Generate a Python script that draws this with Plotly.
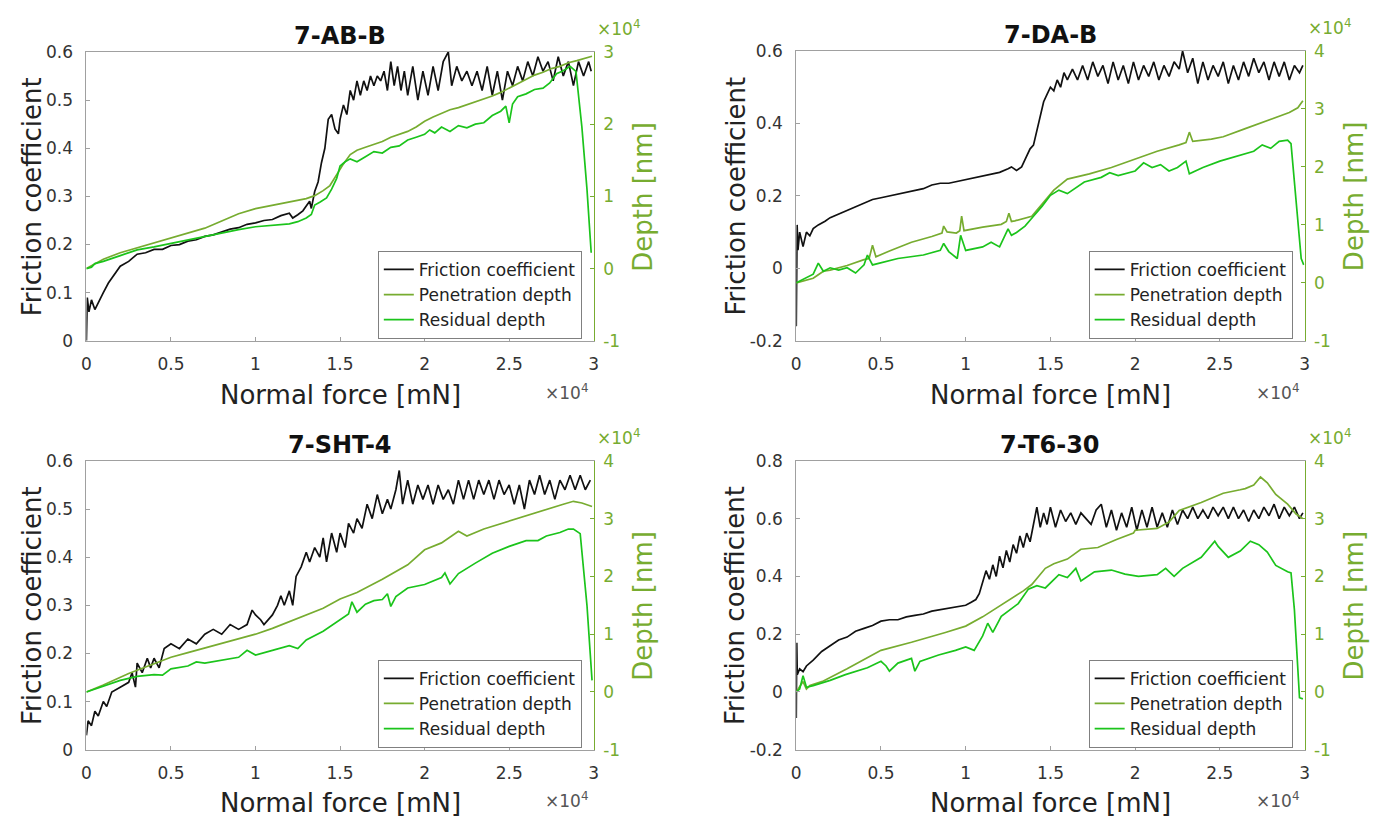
import plotly.graph_objects as go

# ---------------- data (force in 1e4 mN, depth in 1e4 nm) ----------------
# 7-AB-B
ab_fc_x = [0, 0.005, 0.015, 0.03, 0.05, 0.07, 0.1, 0.13, 0.17, 0.2, 0.25, 0.3, 0.35, 0.4, 0.45, 0.5, 0.55, 0.6,
           0.65, 0.7, 0.75, 0.8, 0.85, 0.9, 0.95, 1.0, 1.05, 1.1, 1.15, 1.2, 1.22, 1.25, 1.28, 1.3, 1.32, 1.33,
           1.35, 1.37, 1.39, 1.41, 1.43, 1.45, 1.47, 1.49, 1.5, 1.52, 1.54, 1.56, 1.58, 1.6, 1.62, 1.64, 1.66,
           1.68, 1.7, 1.72, 1.74, 1.76, 1.78, 1.8, 1.82, 1.84, 1.86, 1.88, 1.9, 1.93, 1.96, 1.99, 2.02, 2.05,
           2.08, 2.11, 2.14, 2.16, 2.19, 2.22, 2.25, 2.28, 2.31, 2.34, 2.37, 2.4, 2.43, 2.46, 2.49, 2.52, 2.55,
           2.58, 2.61, 2.64, 2.67, 2.7, 2.73, 2.76, 2.79, 2.82, 2.85, 2.88, 2.91, 2.94, 2.97, 2.985]
ab_fc_y = [0.0, 0.09, 0.06, 0.085, 0.065, 0.08, 0.1, 0.12, 0.14, 0.155, 0.165, 0.18, 0.183, 0.19, 0.19, 0.198,
           0.2, 0.207, 0.21, 0.217, 0.22, 0.226, 0.232, 0.235, 0.242, 0.245, 0.25, 0.252, 0.26, 0.265, 0.255,
           0.262, 0.27, 0.28, 0.29, 0.275, 0.31, 0.33, 0.37, 0.4, 0.46, 0.47, 0.44, 0.43, 0.46, 0.49, 0.47,
           0.52, 0.5, 0.54, 0.51, 0.54, 0.52, 0.55, 0.53, 0.55, 0.54, 0.56, 0.52, 0.58, 0.53, 0.57, 0.52, 0.56,
           0.51, 0.57, 0.5, 0.56, 0.51, 0.57, 0.52, 0.58, 0.6, 0.53, 0.57, 0.54, 0.56, 0.53, 0.56, 0.52, 0.57,
           0.51, 0.56, 0.5, 0.56, 0.53, 0.57, 0.54, 0.58, 0.55, 0.59, 0.56, 0.58, 0.54, 0.59, 0.55, 0.58, 0.53,
           0.58, 0.55, 0.58, 0.56]
ab_pd_x = [0, 0.03, 0.1, 0.2, 0.3, 0.4, 0.5, 0.6, 0.7, 0.8, 0.9, 1.0, 1.1, 1.2, 1.3, 1.35, 1.4, 1.44, 1.48, 1.52,
           1.56, 1.6, 1.65, 1.7, 1.75, 1.8, 1.85, 1.9, 1.95, 2.0, 2.05, 2.1, 2.15, 2.2, 2.25, 2.3, 2.35, 2.4,
           2.45, 2.5, 2.55, 2.6, 2.65, 2.7, 2.75, 2.8, 2.85, 2.9, 2.95, 2.99]
ab_pd_y = [0.0, 0.04, 0.13, 0.22, 0.29, 0.36, 0.43, 0.49, 0.56, 0.66, 0.76, 0.83, 0.88, 0.92, 0.97, 1.01, 1.08,
           1.15, 1.3, 1.45, 1.58, 1.64, 1.68, 1.72, 1.76, 1.82, 1.86, 1.9, 1.96, 2.04, 2.1, 2.15, 2.2, 2.23,
           2.27, 2.3, 2.35, 2.39, 2.44, 2.5, 2.56, 2.62, 2.68, 2.72, 2.77, 2.8, 2.85, 2.88, 2.91, 2.94]
ab_rd_x = [0, 0.03, 0.05, 0.1, 0.2, 0.3, 0.4, 0.5, 0.6, 0.7, 0.8, 0.9, 1.0, 1.1, 1.2, 1.25, 1.3, 1.33, 1.35,
           1.38, 1.42, 1.45, 1.48, 1.5, 1.53, 1.56, 1.6, 1.65, 1.7, 1.75, 1.8, 1.85, 1.9, 1.95, 2.0, 2.03, 2.06,
           2.1, 2.15, 2.2, 2.25, 2.3, 2.35, 2.4, 2.45, 2.48, 2.5, 2.52, 2.55, 2.6, 2.65, 2.7, 2.74, 2.78, 2.82,
           2.86, 2.895, 2.93, 2.96, 2.985]
ab_rd_y = [0.0, 0.02, 0.07, 0.1, 0.18, 0.26, 0.3, 0.35, 0.4, 0.45, 0.5, 0.54, 0.58, 0.6, 0.62, 0.65, 0.7, 0.75,
           0.88, 0.92, 0.98, 1.1, 1.25, 1.42, 1.48, 1.52, 1.48, 1.55, 1.62, 1.6, 1.68, 1.7, 1.78, 1.82, 1.86,
           1.92, 1.88, 1.96, 1.9, 1.98, 1.95, 2.0, 2.02, 2.12, 2.18, 2.25, 2.02, 2.28, 2.38, 2.42, 2.48, 2.5,
           2.57, 2.7, 2.74, 2.8, 2.73, 1.96, 1.1, 0.22]

# 7-DA-B
da_fc_x = [0, 0.005, 0.01, 0.02, 0.04, 0.06, 0.08, 0.1, 0.13, 0.17, 0.2, 0.25, 0.3, 0.35, 0.4, 0.45, 0.5, 0.55,
           0.6, 0.65, 0.7, 0.75, 0.8, 0.85, 0.9, 0.95, 1.0, 1.05, 1.1, 1.15, 1.2, 1.25, 1.27, 1.3, 1.33, 1.35,
           1.37, 1.38, 1.4, 1.42, 1.44, 1.46, 1.48, 1.5, 1.52, 1.54, 1.56, 1.58, 1.6, 1.63, 1.66, 1.69, 1.72,
           1.75, 1.78, 1.81, 1.84, 1.87, 1.9, 1.93, 1.96, 1.99, 2.02, 2.05, 2.08, 2.11, 2.14, 2.17, 2.2, 2.23,
           2.26, 2.28, 2.31, 2.34, 2.37, 2.4, 2.43, 2.46, 2.49, 2.52, 2.55, 2.58, 2.61, 2.64, 2.67, 2.7, 2.73,
           2.76, 2.79, 2.82, 2.85, 2.88, 2.91, 2.94, 2.97, 2.99]
da_fc_y = [-0.16, 0.12, 0.05, 0.1, 0.06, 0.1, 0.09, 0.11, 0.12, 0.13, 0.14, 0.15, 0.16, 0.17, 0.18, 0.19, 0.195,
           0.2, 0.205, 0.21, 0.215, 0.22, 0.23, 0.235, 0.235, 0.24, 0.245, 0.25, 0.255, 0.26, 0.265, 0.275,
           0.28, 0.27, 0.28, 0.3, 0.32, 0.33, 0.34, 0.38, 0.42, 0.46, 0.48, 0.5, 0.49, 0.52, 0.5, 0.54, 0.52,
           0.55, 0.52, 0.56, 0.52, 0.57, 0.53, 0.56, 0.51, 0.57, 0.52, 0.56, 0.51, 0.57, 0.52, 0.56, 0.53, 0.57,
           0.52, 0.56, 0.53, 0.57, 0.55, 0.6, 0.54, 0.58, 0.51, 0.57, 0.52, 0.56, 0.53, 0.57, 0.51, 0.56, 0.52,
           0.57, 0.53, 0.58, 0.54, 0.57, 0.52, 0.57, 0.53, 0.57, 0.52, 0.56, 0.54, 0.56]
da_pd_x = [0, 0.1, 0.13, 0.16, 0.2, 0.3, 0.4, 0.43, 0.45, 0.47, 0.55, 0.68, 0.8, 0.86, 0.87, 0.89, 0.945, 0.965,
           0.976, 0.99, 1.1, 1.21, 1.24, 1.255, 1.27, 1.29, 1.39, 1.47, 1.52, 1.6, 1.73, 1.86, 1.99, 2.13, 2.26,
           2.3, 2.32, 2.34, 2.45, 2.52, 2.65, 2.78, 2.91, 2.96, 2.99]
da_pd_y = [0.0, 0.08, 0.14, 0.2, 0.22, 0.3, 0.4, 0.42, 0.65, 0.45, 0.55, 0.7, 0.8, 0.86, 0.98, 0.88, 0.86, 0.9,
           1.15, 0.9, 0.96, 1.01, 1.06, 1.2, 1.06, 1.07, 1.15, 1.43, 1.6, 1.79, 1.88, 1.99, 2.13, 2.27, 2.38,
           2.42, 2.6, 2.44, 2.48, 2.52, 2.66, 2.8, 2.94, 3.02, 3.14]
da_rd_x = [0, 0.05, 0.1, 0.13, 0.16, 0.2, 0.25, 0.3, 0.35, 0.4, 0.42, 0.45, 0.6, 0.75, 0.85, 0.87, 0.9, 0.95,
           0.97, 1.0, 1.1, 1.15, 1.2, 1.25, 1.27, 1.3, 1.35, 1.4, 1.45, 1.5, 1.55, 1.6, 1.7, 1.8, 1.85, 1.9,
           2.0, 2.05, 2.1, 2.15, 2.2, 2.25, 2.3, 2.32, 2.4, 2.5, 2.6, 2.7, 2.75, 2.8, 2.85, 2.9, 2.92, 2.95,
           2.98, 2.995]
da_rd_y = [0.0, 0.08, 0.15, 0.34, 0.2, 0.26, 0.22, 0.26, 0.17, 0.31, 0.48, 0.31, 0.42, 0.48, 0.56, 0.68, 0.54,
           0.42, 0.82, 0.56, 0.62, 0.7, 0.62, 0.93, 0.82, 0.87, 0.98, 1.15, 1.32, 1.51, 1.6, 1.54, 1.74, 1.82,
           1.9, 1.85, 1.93, 2.07, 1.99, 2.04, 1.93, 1.99, 2.1, 1.88, 1.99, 2.1, 2.18, 2.27, 2.38, 2.32, 2.44,
           2.46, 2.4, 1.37, 0.42, 0.31]

# 7-SHT-4
sh_fc_x = [0, 0.01, 0.03, 0.05, 0.07, 0.1, 0.12, 0.15, 0.2, 0.25, 0.27, 0.29, 0.3, 0.33, 0.36, 0.38, 0.4, 0.43,
           0.46, 0.5, 0.55, 0.6, 0.65, 0.7, 0.75, 0.8, 0.85, 0.9, 0.95, 0.98, 1.0, 1.03, 1.05, 1.1, 1.13, 1.15,
           1.17, 1.2, 1.22, 1.24, 1.27, 1.3, 1.32, 1.35, 1.38, 1.4, 1.42, 1.45, 1.48, 1.5, 1.53, 1.55, 1.58,
           1.6, 1.63, 1.66, 1.69, 1.72, 1.75, 1.78, 1.8, 1.83, 1.85, 1.87, 1.9, 1.93, 1.96, 1.99, 2.02, 2.05,
           2.08, 2.11, 2.14, 2.17, 2.2, 2.23, 2.26, 2.29, 2.32, 2.35, 2.38, 2.41, 2.44, 2.47, 2.5, 2.53, 2.56,
           2.59, 2.62, 2.65, 2.68, 2.71, 2.74, 2.77, 2.8, 2.83, 2.86, 2.89, 2.92, 2.95, 2.98]
sh_fc_y = [0.03, 0.06, 0.05, 0.08, 0.07, 0.1, 0.09, 0.12, 0.13, 0.14, 0.16, 0.13, 0.18, 0.16, 0.19, 0.17, 0.19,
           0.17, 0.21, 0.22, 0.21, 0.23, 0.22, 0.24, 0.25, 0.24, 0.26, 0.25, 0.26, 0.29, 0.28, 0.27, 0.26, 0.28,
           0.3, 0.32, 0.3, 0.33, 0.3, 0.36, 0.38, 0.41, 0.39, 0.42, 0.4, 0.44, 0.39, 0.45, 0.41, 0.45, 0.42,
           0.47, 0.45, 0.48, 0.46, 0.51, 0.48, 0.53, 0.49, 0.52, 0.5, 0.54, 0.58, 0.51, 0.56, 0.51, 0.55, 0.52,
           0.55, 0.51, 0.55, 0.52, 0.54, 0.51, 0.56, 0.52, 0.56, 0.52, 0.56, 0.53, 0.56, 0.52, 0.56, 0.53, 0.55,
           0.51, 0.55, 0.5, 0.56, 0.53, 0.57, 0.53, 0.56, 0.52, 0.56, 0.54, 0.57, 0.54, 0.57, 0.54, 0.56]
sh_pd_x = [0, 0.1, 0.25, 0.4, 0.5, 0.6, 0.75, 0.9, 1.0, 1.1, 1.25, 1.4, 1.5, 1.6, 1.75, 1.9, 2.0, 2.1, 2.2,
           2.25, 2.35, 2.5, 2.6, 2.75, 2.82, 2.88, 2.93, 2.99]
sh_pd_y = [0.0, 0.12, 0.32, 0.48, 0.6, 0.68, 0.8, 0.92, 1.0, 1.1, 1.28, 1.45, 1.61, 1.72, 1.95, 2.2, 2.46,
           2.58, 2.78, 2.7, 2.82, 2.96, 3.05, 3.19, 3.25, 3.3, 3.27, 3.21]
sh_rd_x = [0, 0.1, 0.2, 0.3, 0.4, 0.45, 0.5, 0.6, 0.65, 0.7, 0.8, 0.9, 0.95, 1.0, 1.1, 1.2, 1.25, 1.3, 1.4,
           1.5, 1.55, 1.57, 1.6, 1.65, 1.7, 1.75, 1.78, 1.8, 1.83, 1.9, 2.0, 2.1, 2.12, 2.15, 2.2, 2.3, 2.4,
           2.5, 2.6, 2.67, 2.72, 2.8, 2.85, 2.88, 2.92, 2.96, 2.99]
sh_rd_y = [0.0, 0.1, 0.2, 0.27, 0.3, 0.29, 0.4, 0.45, 0.52, 0.5, 0.55, 0.6, 0.72, 0.64, 0.72, 0.8, 0.75, 0.9,
           1.05, 1.25, 1.35, 1.56, 1.38, 1.52, 1.58, 1.6, 1.7, 1.48, 1.65, 1.8, 1.86, 1.98, 2.06, 1.87, 2.05,
           2.23, 2.4, 2.52, 2.62, 2.62, 2.7, 2.76, 2.82, 2.82, 2.74, 1.5, 0.2]

# 7-T6-30
t6_fc_x = [0, 0.003, 0.006, 0.02, 0.04, 0.06, 0.1, 0.15, 0.2, 0.25, 0.3, 0.35, 0.4, 0.45, 0.5, 0.55, 0.6, 0.65,
           0.7, 0.75, 0.8, 0.85, 0.9, 0.95, 1.0, 1.03, 1.06, 1.08, 1.1, 1.12, 1.14, 1.16, 1.18, 1.2, 1.22, 1.24,
           1.26, 1.28, 1.3, 1.32, 1.34, 1.36, 1.38, 1.4, 1.42, 1.44, 1.46, 1.48, 1.5, 1.53, 1.56, 1.59, 1.62,
           1.65, 1.68, 1.71, 1.74, 1.77, 1.8, 1.83, 1.86, 1.89, 1.92, 1.95, 1.98, 2.01, 2.04, 2.07, 2.1, 2.13,
           2.16, 2.19, 2.22, 2.25, 2.28, 2.31, 2.34, 2.37, 2.4, 2.43, 2.46, 2.49, 2.52, 2.55, 2.58, 2.61, 2.64,
           2.67, 2.7, 2.73, 2.76, 2.79, 2.82, 2.85, 2.88, 2.91, 2.94, 2.97, 2.99]
t6_fc_y = [-0.09, 0.17, 0.06, 0.08, 0.07, 0.09, 0.11, 0.14, 0.16, 0.18, 0.19, 0.21, 0.22, 0.23, 0.245, 0.25,
           0.25, 0.26, 0.265, 0.27, 0.28, 0.285, 0.29, 0.295, 0.3, 0.31, 0.32, 0.34, 0.38, 0.42, 0.39, 0.44,
           0.4, 0.47, 0.43, 0.49, 0.45, 0.51, 0.48, 0.54, 0.5, 0.55, 0.52, 0.58, 0.64, 0.57, 0.62, 0.58, 0.64,
           0.57, 0.63, 0.59, 0.62, 0.58, 0.62, 0.6, 0.58, 0.63, 0.65, 0.57, 0.63, 0.56, 0.62, 0.57, 0.64, 0.56,
           0.63, 0.57, 0.64, 0.57, 0.62, 0.57, 0.63, 0.58, 0.63, 0.6, 0.64, 0.6, 0.63, 0.6, 0.64, 0.61, 0.64,
           0.6, 0.64, 0.6, 0.63, 0.59, 0.63, 0.6, 0.64, 0.61, 0.65, 0.6, 0.64, 0.61, 0.64, 0.6, 0.62]
t6_pd_x = [0, 0.04, 0.06, 0.08, 0.16, 0.3, 0.5, 0.68, 0.88, 1.0, 1.1, 1.21, 1.34, 1.39, 1.47, 1.52, 1.6, 1.68,
           1.78, 1.89, 1.99, 2.0, 2.13, 2.2, 2.26, 2.39, 2.52, 2.62, 2.65, 2.7, 2.74, 2.78, 2.83, 2.9, 2.95, 2.99]
t6_pd_y = [0.0, 0.18, 0.05, 0.11, 0.19, 0.4, 0.72, 0.86, 1.03, 1.14, 1.3, 1.5, 1.75, 1.86, 2.14, 2.22, 2.3,
           2.47, 2.5, 2.64, 2.75, 2.8, 2.83, 2.94, 3.14, 3.28, 3.44, 3.5, 3.52, 3.58, 3.72, 3.62, 3.42, 3.25,
           3.08, 3.0]
t6_rd_x = [0, 0.02, 0.04, 0.06, 0.1, 0.2, 0.29, 0.42, 0.5, 0.53, 0.55, 0.6, 0.68, 0.7, 0.73, 0.84, 0.94, 1.0,
           1.05, 1.1, 1.13, 1.16, 1.21, 1.26, 1.31, 1.37, 1.42, 1.47, 1.55, 1.6, 1.65, 1.68, 1.76, 1.86, 1.94,
           2.02, 2.13, 2.18, 2.23, 2.28, 2.39, 2.47, 2.49, 2.55, 2.62, 2.68, 2.73, 2.78, 2.83, 2.9, 2.92, 2.94,
           2.97, 2.99]
t6_rd_y = [0.0, 0.05, 0.28, 0.08, 0.11, 0.2, 0.3, 0.42, 0.53, 0.45, 0.36, 0.5, 0.58, 0.36, 0.53, 0.64, 0.72,
           0.78, 0.72, 0.97, 1.19, 1.03, 1.31, 1.42, 1.53, 1.78, 1.84, 1.8, 2.03, 1.98, 2.14, 1.92, 2.08, 2.11,
           2.04, 2.0, 2.03, 2.14, 2.0, 2.14, 2.33, 2.61, 2.52, 2.33, 2.44, 2.61, 2.55, 2.42, 2.19, 2.08, 2.06,
           1.42, -0.1, -0.12]

titles = ["7-AB-B", "7-DA-B", "7-SHT-4", "7-T6-30"]
series_names = ["Friction coefficient", "Penetration depth", "Residual depth"]
x_ticks = [0, 0.5, 1, 1.5, 2, 2.5, 3]
x_tick_text = ["0", "0.5", "1", "1.5", "2", "2.5", "3"]
left_ticks = [
    ([0, 0.1, 0.2, 0.3, 0.4, 0.5, 0.6], ["0", "0.1", "0.2", "0.3", "0.4", "0.5", "0.6"]),
    ([-0.2, 0, 0.2, 0.4, 0.6], ["-0.2", "0", "0.2", "0.4", "0.6"]),
    ([0, 0.1, 0.2, 0.3, 0.4, 0.5, 0.6], ["0", "0.1", "0.2", "0.3", "0.4", "0.5", "0.6"]),
    ([-0.2, 0, 0.2, 0.4, 0.6, 0.8], ["-0.2", "0", "0.2", "0.4", "0.6", "0.8"]),
]
right_ticks = [
    ([-1, 0, 1, 2, 3], ["-1", "0", "1", "2", "3"]),
    ([-1, 0, 1, 2, 3, 4], ["-1", "0", "1", "2", "3", "4"]),
    ([-1, 0, 1, 2, 3, 4], ["-1", "0", "1", "2", "3", "4"]),
    ([-1, 0, 1, 2, 3, 4], ["-1", "0", "1", "2", "3", "4"]),
]
left_ranges = [[0, 0.6], [-0.2, 0.6], [0, 0.6], [-0.2, 0.8]]
right_ranges = [[-1, 3], [-1, 4], [-1, 4], [-1, 4]]

data = [
    (ab_fc_x, ab_fc_y, ab_pd_x, ab_pd_y, ab_rd_x, ab_rd_y),
    (da_fc_x, da_fc_y, da_pd_x, da_pd_y, da_rd_x, da_rd_y),
    (sh_fc_x, sh_fc_y, sh_pd_x, sh_pd_y, sh_rd_x, sh_rd_y),
    (t6_fc_x, t6_fc_y, t6_pd_x, t6_pd_y, t6_rd_x, t6_rd_y),
]

# ---------------- styling / layout ----------------
W, H = 1389, 830
FONT = "DejaVu Sans"
BLACK = "#111111"
OLIVE = "#77AC30"
GREEN = "#1BC41B"
AXGRAY = "#a0a0a0"
TXT = "#333333"

# panel boxes in pixels: left, right, top, bottom
boxes = [(82, 593, 43, 339), (797, 1309, 42, 339), (82, 593, 462, 758), (797, 1309, 462, 758)]
ylab_x = [28, 736, 28, 736]


def px(x):
    return x / W


def py(y):
    return 1 - y / H


fig = go.Figure()
layout = dict(width=W, height=H, margin=dict(l=0, r=0, t=0, b=0), autosize=False,
              paper_bgcolor="white", plot_bgcolor="white", showlegend=True,
              font=dict(family=FONT, color=TXT))
annotations = []

for i in range(4):
    n = i + 1
    L, R, T, B = boxes[i]
    xa = "x" if n == 1 else f"x{n}"
    ya = "y" if n == 1 else f"y{n}"
    ya2 = f"y{n + 4}"
    leg = "legend" if n == 1 else f"legend{n}"
    fx, fy, pdx, pdy, rdx, rdy = data[i]
    fig.add_trace(go.Scatter(x=fx, y=fy, mode="lines", name=series_names[0], xaxis=xa, yaxis=ya,
                             line=dict(color=BLACK, width=1.7), legend=leg))
    fig.add_trace(go.Scatter(x=pdx, y=pdy, mode="lines", name=series_names[1], xaxis=xa, yaxis=ya2,
                             line=dict(color=OLIVE, width=1.7), legend=leg))
    fig.add_trace(go.Scatter(x=rdx, y=rdy, mode="lines", name=series_names[2], xaxis=xa, yaxis=ya2,
                             line=dict(color=GREEN, width=1.7), legend=leg))

    layout[f"xaxis{n}"] = dict(domain=[px(L), px(R)], range=[0, 3], anchor=ya, showline=True,
                               linecolor=AXGRAY, linewidth=1, mirror=True, ticks="inside", ticklen=4,
                               tickcolor=AXGRAY, tickvals=x_ticks, ticktext=x_tick_text,
                               tickfont=dict(size=17, color=TXT, family=FONT), showgrid=False,
                               zeroline=False, ticklabelstandoff=8)
    lt, ltt = left_ticks[i]
    layout[f"yaxis{n}"] = dict(domain=[py(B), py(T)], range=left_ranges[i], anchor=xa, showline=True,
                               linecolor=AXGRAY, linewidth=1, ticks="inside", ticklen=4, tickcolor=AXGRAY,
                               tickvals=lt, ticktext=ltt, tickfont=dict(size=17, color=TXT, family=FONT),
                               showgrid=False, zeroline=False, ticklabelstandoff=9)
    rt, rtt = right_ticks[i]
    layout[f"yaxis{n + 4}"] = dict(domain=[py(B), py(T)], range=right_ranges[i], anchor=xa, overlaying=ya,
                                   side="right", showline=True, linecolor=OLIVE, linewidth=1, ticks="inside",
                                   ticklen=4, tickcolor=OLIVE, tickvals=rt, ticktext=rtt,
                                   tickfont=dict(size=17, color=OLIVE, family=FONT), showgrid=False,
                                   zeroline=False, ticklabelstandoff=5)
    layout[leg] = dict(x=px(R - 12), y=py(B - 2), xanchor="right", yanchor="bottom", bgcolor="white",
                       bordercolor="#808080", borderwidth=1, font=dict(size=17, color="#222", family=FONT),
                       tracegroupgap=0, itemwidth=30)

    cx = (L + R) / 2
    annotations += [
        dict(text=f"<b>{titles[i]}</b>", x=px(cx), y=py(T - 16), xref="paper", yref="paper",
             showarrow=False, font=dict(size=24, color="#111", family=FONT), xanchor="center", yanchor="middle"),
        dict(text="Friction coefficient", x=px(ylab_x[i]), y=py((T + B) / 2), xref="paper", yref="paper",
             showarrow=False, textangle=-90, font=dict(size=26, color="#222", family=FONT),
             xanchor="center", yanchor="middle"),
        dict(text="Depth [nm]", x=px(R + 50), y=py((T + B) / 2), xref="paper", yref="paper",
             showarrow=False, textangle=-90, font=dict(size=26, color=OLIVE, family=FONT),
             xanchor="center", yanchor="middle"),
        dict(text="Normal force [mN]", x=px(cx), y=py(B + 55), xref="paper", yref="paper",
             showarrow=False, font=dict(size=26, color="#222", family=FONT), xanchor="center", yanchor="middle"),
        dict(text="×10<sup>4</sup>", x=px(R + 1), y=py(T - 11), xref="paper", yref="paper",
             showarrow=False, font=dict(size=17, color=OLIVE, family=FONT), xanchor="left", yanchor="bottom"),
        dict(text="×10<sup>4</sup>", x=px(R - 4), y=py(B + 52), xref="paper", yref="paper",
             showarrow=False, font=dict(size=17, color="#555", family=FONT), xanchor="right", yanchor="middle"),
    ]

layout["annotations"] = annotations
fig.update_layout(**layout)
fig.write_html("out.html")
